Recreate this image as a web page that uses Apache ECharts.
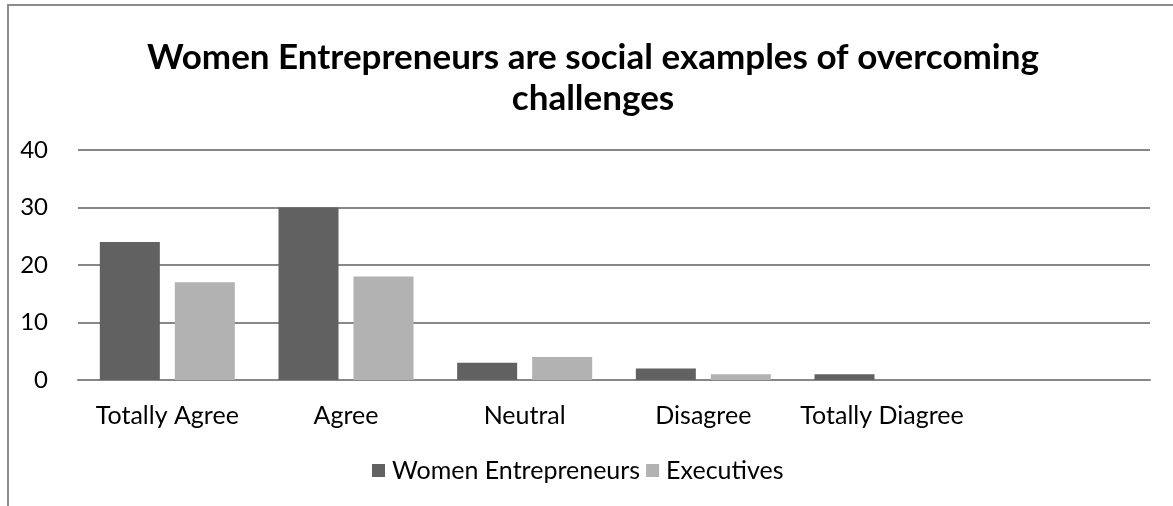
<!DOCTYPE html>
<html>
<head>
<meta charset="utf-8">
<script src="https://cdn.jsdelivr.net/npm/echarts@6/dist/echarts.min.js"></script>
<style>
  html, body { margin: 0; padding: 0; background: #ffffff; }
  #chart { width: 1173px; height: 506px; }
</style>
</head>
<body>
<div id="chart"></div>
<script>
// Survey answers: counts per answer for each group
const categories = ['Totally Agree', 'Agree', 'Neutral', 'Disagree', 'Totally Diagree', ''];
const womenEntrepreneurs = [24, 30, 3, 2, 1, null];
const executives = [17, 18, 4, 1, 0, null];
const yTicks = [0, 10, 20, 30, 40];

const FONT = 'Lato, "Open Sans", sans-serif';
const GRID_COLOR = '#878787';

const chart = echarts.init(document.getElementById('chart'), null, { renderer: 'canvas' });

chart.setOption({
  animation: false,
  backgroundColor: '#ffffff',
  textStyle: { fontFamily: FONT },
  title: {
    text: 'Women Entrepreneurs are social examples of overcoming\nchallenges',
    left: 588,
    top: 32,
    textAlign: 'center',
    textStyle: {
      fontFamily: FONT,
      fontWeight: 'bold',
      fontSize: 35,
      lineHeight: 41,
      color: '#000000'
    }
  },
  graphic: [{
    // chart area frame (left and top edges visible)
    type: 'rect',
    shape: { x: 8, y: 5, width: 1200, height: 600 },
    style: { fill: 'none', stroke: '#8c8c8c', lineWidth: 2 },
    silent: true,
    z: 100
  }],
  legend: {
    left: 367,
    top: 453,
    itemWidth: 13,
    itemHeight: 13,
    itemGap: 6,
    icon: 'rect',
    textStyle: { fontFamily: FONT, fontSize: 25, color: '#000000', padding: [0, 0, 0, 2] },
    data: ['Women Entrepreneurs', 'Executives']
  },
  grid: { left: 78, right: 23, top: 150, bottom: 126, containLabel: false },
  xAxis: {
    type: 'category',
    data: categories,
    axisLine: { show: true, lineStyle: { color: GRID_COLOR, width: 2 } },
    axisTick: { show: false },
    axisLabel: {
      interval: 0,
      margin: 23,
      fontFamily: FONT,
      fontSize: 25,
      color: '#000000'
    }
  },
  yAxis: {
    type: 'value',
    min: yTicks[0],
    max: yTicks[yTicks.length - 1],
    interval: yTicks[1] - yTicks[0],
    axisLine: { show: false },
    axisTick: { show: false },
    splitLine: { lineStyle: { color: GRID_COLOR, width: 2 } },
    axisLabel: {
      margin: 30,
      fontFamily: FONT,
      fontSize: 24,
      color: '#000000'
    }
  },
  series: [
    {
      name: 'Women Entrepreneurs',
      type: 'bar',
      data: womenEntrepreneurs,
      barWidth: 60,
      barGap: '25%',
      itemStyle: { color: '#616161' }
    },
    {
      name: 'Executives',
      type: 'bar',
      data: executives,
      barWidth: 60,
      barGap: '25%',
      itemStyle: { color: '#b2b2b2' }
    }
  ]
});
</script>
</body>
</html>
